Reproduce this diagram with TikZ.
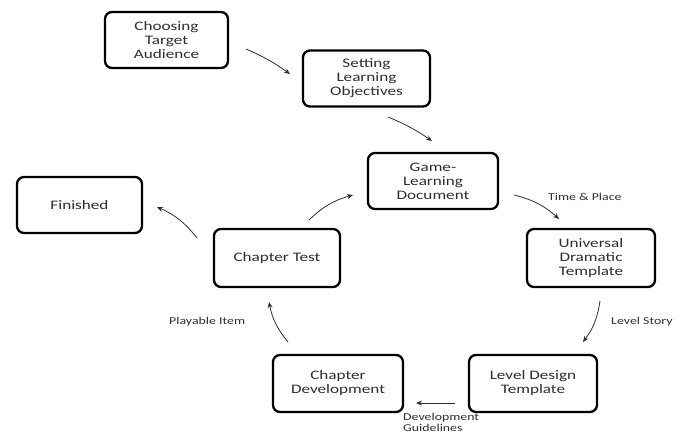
\documentclass[tikz,border=0pt]{standalone}
\usepackage{fontspec}
\setmainfont{Carlito}[FakeStretch=1.32]
\usepackage{tikz}
\usetikzlibrary{arrows.meta,positioning}
\definecolor{inkgray}{HTML}{2E2E2E}
\tikzstyle{stagebox} = [rectangle, draw=black, line width=2.3pt, rounded corners=7pt, minimum width=126pt, minimum height=56pt, align=center, text=inkgray, font=\fontsize{13}{14}\selectfont, inner sep=2pt]
\tikzstyle{flow} = [-{Stealth[length=6pt,width=5pt]}, draw=inkgray, line width=0.8pt]
\tikzstyle{lbl} = [text=inkgray, font=\fontsize{10.5}{11.5}\selectfont, inner sep=0pt]

\begin{document}
\begin{tikzpicture}[x=1pt, y=-1pt]
    \clip (0,0) rectangle (683,436);
    % Stages
    \node[stagebox, minimum width=123pt] (choose) at (166.5,40) {Choosing\\Target\\Audience};
    \node[stagebox, minimum width=127pt] (objectives) at (366.5,78.5) {Setting\\Learning\\Objectives};
    \node[stagebox, minimum width=130pt] (gamedoc) at (433,181) {Game-\\Learning\\Document};
    \node[stagebox, minimum width=125pt] (finished) at (79.5,205) {Finished};
    \node[stagebox, minimum width=126pt, minimum height=58pt] (chtest) at (277,258) {Chapter Test};
    \node[stagebox, minimum width=128pt, minimum height=58pt] (universal) at (591,258) {Universal\\Dramatic\\Template};
    \node[stagebox, minimum width=130pt, minimum height=57pt] (chdev) at (338,383.5) {Chapter\\Development};
    \node[stagebox, minimum width=128pt, minimum height=57pt] (leveldes) at (533,383.5) {Level Design\\Template};

    % Arrow ends
    \coordinate (a1s) at (246,49);   \coordinate (a1e) at (290,74);
    \coordinate (a2s) at (388,117);  \coordinate (a2e) at (432,141);
    \coordinate (a3s) at (514,195);  \coordinate (a3e) at (559,219);
    \coordinate (a4s) at (600,301);  \coordinate (a4e) at (583,342);
    \coordinate (a5s) at (455,403);  \coordinate (a5e) at (416,403);
    \coordinate (a6s) at (288,342);  \coordinate (a6e) at (269,302);
    \coordinate (a7s) at (309,220);  \coordinate (a7e) at (353,195);
    \coordinate (a8s) at (197,238);  \coordinate (a8e) at (157,207);

    % Flow
    \draw[flow] (a1s) to[bend left=6] (a1e);
    \draw[flow] (a2s) to[bend left=6] (a2e);
    \draw[flow] (a3s) to[bend left=14] (a3e);
    \draw[flow] (a4s) to[bend left=14] (a4e);
    \draw[flow] (a5s) -- (a5e);
    \draw[flow] (a6s) to[bend left=14] (a6e);
    \draw[flow] (a7s) to[bend left=14] (a7e);
    \draw[flow] (a8s) to[bend right=14] (a8e);

    % Labels
    \node[lbl, anchor=west] (tplace) at (548,197) {Time \& Place};
    \node[lbl, anchor=west] (lstory) at (611,322) {Level Story};
    \node[lbl, anchor=west] (pitem) at (169,322) {Playable Item};
    \node[lbl, anchor=north west, align=left] (devguide) at (403,413) {Development\\Guidelines};
\end{tikzpicture}
\end{document}
